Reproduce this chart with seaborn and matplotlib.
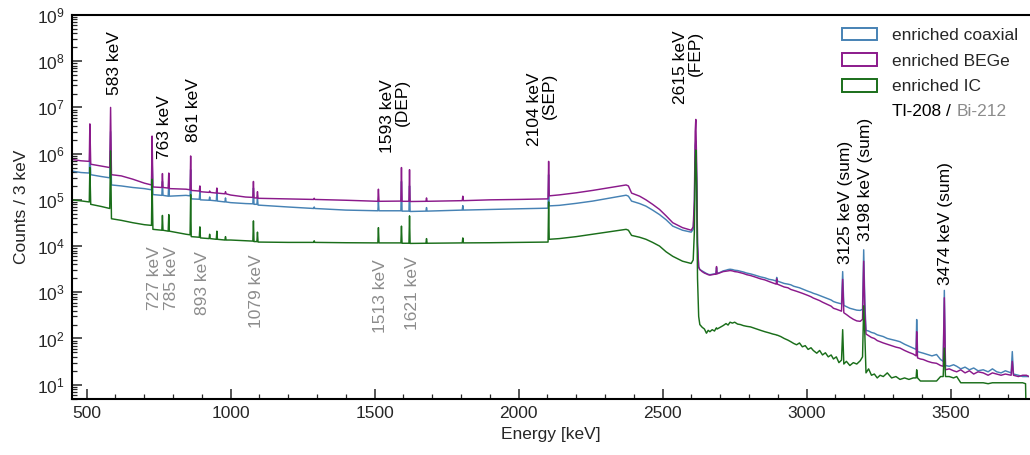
import numpy as np
import pandas as pd
import matplotlib
matplotlib.use("Agg")
import matplotlib.pyplot as plt
import seaborn as sns
from matplotlib.patches import Patch
from matplotlib.ticker import FixedLocator, NullFormatter, LogFormatterSciNotation

# ---------------- data ----------------
energy = [448, 480, 509, 511, 514, 550, 580, 583, 586, 620, 660, 700, 725, 727, 730,
          761, 763, 765, 783, 785, 787, 845, 859, 861, 863, 891, 893, 895, 925, 927, 929,
          950, 952, 954, 980, 982, 984, 1000, 1052, 1077, 1079, 1081, 1091, 1093, 1095,
          1200, 1288, 1290, 1292, 1400, 1511, 1513, 1515, 1591, 1593, 1595, 1619, 1621, 1623,
          1678, 1680, 1682, 1804, 1806, 1808, 1900, 2000, 2100, 2102, 2104, 2106, 2141, 2200,
          2257, 2320, 2373, 2381, 2392, 2420, 2442, 2465, 2489, 2512, 2535, 2569, 2599, 2606,
          2610, 2613, 2615, 2618, 2621, 2625,
          2629, 2637, 2645, 2652, 2658, 2664, 2672, 2680, 2685, 2687, 2689, 2700, 2710, 2720,
          2727, 2734, 2742, 2750, 2760, 2770, 2780, 2792, 2805, 2820, 2840, 2855, 2870, 2882,
          2894, 2896, 2898, 2910, 2922, 2935, 2945, 2955, 2965, 2975, 2985, 2995, 3005, 3015,
          3023, 3035, 3045, 3055, 3065, 3075, 3085, 3093, 3103, 3112, 3121, 3125, 3129, 3138,
          3150, 3162, 3174, 3186, 3194, 3198, 3202, 3206, 3215, 3225, 3235, 3245, 3255, 3266,
          3280, 3295, 3310, 3324, 3340, 3355, 3370, 3380, 3382, 3385, 3395, 3405, 3420, 3435,
          3451, 3465, 3474, 3478, 3482, 3495, 3510, 3521, 3535, 3550, 3565, 3580, 3595, 3613,
          3630, 3645, 3660, 3675, 3690, 3710, 3714, 3718, 3735, 3750, 3760, 3763, 3772]

coax = [4.2e5, 3.9e5, 3.8e5, 1.4e6, 3.5e5, 3.2e5, 3.0e5, 3.0e6, 2.1e5, 2.0e5, 1.85e5, 1.75e5, 1.65e5, 9e5, 1.3e5,
        1.25e5, 2.5e5, 1.25e5, 1.2e5, 2.4e5, 1.2e5, 1.25e5, 1.22e5, 4.5e5, 1.05e5, 1.03e5, 1.5e5, 1.0e5, 9.8e4, 1.15e5, 9.8e4,
        9.5e4, 1.4e5, 9.4e4, 9.0e4, 1.1e5, 9.0e4, 8.7e4, 8.3e4, 8.2e4, 1.8e5, 8.0e4, 8.0e4, 1.1e5, 7.7e4,
        7.0e4, 6.5e4, 7.0e4, 6.5e4, 6.0e4, 5.8e4, 9.0e4, 5.8e4, 5.8e4, 2.5e5, 5.7e4, 5.7e4, 2.0e5, 5.6e4,
        5.7e4, 6.8e4, 5.7e4, 6.0e4, 7.5e4, 6.0e4, 6.2e4, 6.4e4, 6.6e4, 6.6e4, 3.5e5, 7.4e4, 7.6e4, 8.4e4,
        9.4e4, 1.1e5, 1.26e5, 1.2e5, 9.4e4, 8.3e4, 7.3e4, 6.0e4, 4.8e4, 3.7e4, 2.7e4, 2.2e4, 2.0e4, 2.3e4,
        6e4, 1.5e6, 1.9e6, 3e5, 1e4, 3.5e3,
        3100, 2900, 2700, 2550, 2450, 2400, 2450, 2500, 2500, 3400, 2550, 2700, 2900, 3000,
        3100, 3150, 3100, 3000, 2950, 2850, 2750, 2600, 2500, 2350, 2150, 2050, 1900, 1850,
        1750, 2100, 1750, 1650, 1550, 1500, 1450, 1350, 1300, 1250, 1180, 1120, 1050, 1000,
        950, 900, 850, 800, 760, 720, 680, 630, 600, 580, 560, 2800, 520, 490,
        450, 430, 410, 405, 430, 8300, 600, 150, 145, 135, 130, 120, 115, 110,
        100, 95, 90, 85, 75, 68, 62, 58, 257, 52, 50, 48, 45, 42,
        45, 35, 32, 1100, 26, 25, 27, 25, 22, 24, 21, 23, 20, 21,
        19, 22, 19, 18, 20, 18, 52, 17, 16, 15, 15, 15, 15]

bege = [7.5e5, 7.0e5, 6.8e5, 4.4e6, 5.9e5, 5.4e5, 5.0e5, 1.0e7, 3.5e5, 3.3e5, 2.8e5, 2.3e5, 2.1e5, 2.4e6, 1.9e5,
        1.85e5, 3.7e5, 1.85e5, 1.8e5, 3.8e5, 1.75e5, 1.7e5, 1.65e5, 8.9e5, 1.6e5, 1.55e5, 2.0e5, 1.5e5, 1.45e5, 1.55e5, 1.45e5,
        1.4e5, 1.8e5, 1.4e5, 1.35e5, 1.5e5, 1.35e5, 1.27e5, 1.15e5, 1.13e5, 2.5e5, 1.1e5, 1.1e5, 1.5e5, 1.08e5,
        1.05e5, 1.02e5, 1.08e5, 1.02e5, 9.8e4, 9.3e4, 1.7e5, 9.3e4, 9.4e4, 5.0e5, 9.3e4, 9.3e4, 4.5e5, 9.2e4,
        9.3e4, 1.1e5, 9.3e4, 9.6e4, 1.2e5, 9.6e4, 1.0e5, 1.02e5, 1.05e5, 1.05e5, 6.8e5, 1.22e5, 1.28e5, 1.42e5,
        1.6e5, 1.85e5, 2.1e5, 2.0e5, 1.4e5, 1.2e5, 1.0e5, 8.0e4, 6.2e4, 4.5e4, 3.2e4, 2.5e4, 2.2e4, 2.6e4,
        1e5, 3e6, 5.5e6, 6e5, 1.2e4, 3.5e3,
        3100, 2800, 2600, 2500, 2400, 2350, 2400, 2450, 2450, 3600, 2500, 2650, 2800, 2850,
        2900, 2950, 2900, 2800, 2750, 2650, 2550, 2400, 2300, 2150, 1950, 1850, 1700, 1600,
        1500, 1950, 1500, 1400, 1300, 1250, 1150, 1100, 1050, 1000, 950, 900, 850, 800,
        750, 700, 660, 610, 570, 530, 500, 450, 430, 410, 390, 1900, 360, 330,
        290, 260, 240, 235, 260, 4700, 400, 125, 115, 105, 100, 90, 85, 80,
        75, 70, 65, 62, 55, 50, 46, 42, 140, 38, 36, 35, 32, 30,
        29, 26, 25, 760, 21, 22, 20, 19, 21, 18, 20, 17, 19, 18,
        16, 18, 17, 16, 17, 16, 32, 16, 15, 16, 16, 16, 15]

ic = [1.0e5, 9.5e4, 9.0e4, 5.0e5, 8.0e4, 7.2e4, 6.5e4, 1.15e6, 3.9e4, 3.6e4, 3.2e4, 2.9e4, 2.8e4, 2.8e5, 2.3e4,
      2.2e4, 4.6e4, 2.2e4, 2.1e4, 4.8e4, 2.1e4, 1.8e4, 1.75e4, 1.3e5, 1.6e4, 1.55e4, 2.6e4, 1.5e4, 1.45e4, 1.8e4, 1.45e4,
      1.4e4, 2.1e4, 1.4e4, 1.35e4, 1.6e4, 1.35e4, 1.35e4, 1.3e4, 1.28e4, 3.5e4, 1.25e4, 1.25e4, 2.0e4, 1.22e4,
      1.2e4, 1.2e4, 1.3e4, 1.2e4, 1.18e4, 1.17e4, 2.5e4, 1.17e4, 1.17e4, 2.7e4, 1.15e4, 1.15e4, 4.5e4, 1.14e4,
      1.15e4, 1.45e4, 1.15e4, 1.17e4, 1.5e4, 1.17e4, 1.18e4, 1.2e4, 1.22e4, 1.22e4, 9.0e4, 1.4e4, 1.45e4, 1.6e4,
      1.8e4, 2.05e4, 2.3e4, 2.2e4, 1.7e4, 1.55e4, 1.4e4, 1.2e4, 1.0e4, 7.5e3, 6.0e3, 4.7e3, 4.2e3, 5.0e3,
      2e4, 6e5, 1.2e6, 2e5, 2e3, 300,
      200, 175, 160, 130, 150, 140, 155, 145, 165, 170, 160, 175, 190, 210,
      195, 225, 215, 225, 205, 200, 190, 183, 178, 165, 150, 140, 132, 125,
      120, 118, 118, 110, 100, 92, 85, 78, 73, 80, 66, 70, 58, 63,
      55, 48, 55, 44, 49, 40, 44, 36, 40, 30, 34, 155, 28, 32,
      26, 30, 28, 33, 40, 510, 120, 18, 22, 16, 17, 14, 16, 15,
      18, 14, 15, 13, 14, 13, 14, 14, 21, 14, 12, 12, 12, 12,
      12, 15, 15, 62, 15, 15, 14, 15, 11, 11, 11, 11, 11, 11,
      10.5, 11, 11, 11, 11, 11, 11, 11, 11, 11, 10.5, 1, 1]

series_names = ["enriched coaxial", "enriched BEGe", "enriched IC"]
series_colors = ["#4682b4", "#8b1a8b", "#1a6e1a"]

# axis ticks
x_major = [500, 1000, 1500, 2000, 2500, 3000, 3500]
y_major = [1e1, 1e2, 1e3, 1e4, 1e5, 1e6, 1e7, 1e8, 1e9]

# peak annotations
tl_labels = ["583 keV", "763 keV", "861 keV", "1593 keV\n(DEP)", "2104 keV\n(SEP)",
             "2615 keV\n(FEP)", "3125 keV (sum)", "3198 keV (sum)", "3474 keV (sum)"]
bi_labels = ["727 keV", "785 keV", "893 keV", "1079 keV", "1513 keV", "1621 keV"]

# label placement (text centre energy, text bottom/top count level)
tl_pos_x = [596, 771, 870, 1571, 2080, 2589, 3135, 3205, 3483]
tl_pos_y = [1.9e7, 7.6e5, 1.76e6, 1.05e6, 1.46e6, 1.17e7, 4.0e3, 1.26e4, 1.46e3]
bi_pos_x = [734, 795, 901, 1088, 1520, 1630]
bi_pos_y = [1.0e4, 1.0e4, 7.7e3, 6.6e3, 5.2e3, 6.0e3]

# ---------------- figure ----------------
sns.set_style("ticks")
plt.rcParams["font.family"] = ["Liberation Sans", "DejaVu Sans"]
plt.rcParams["mathtext.fontset"] = "custom"
plt.rcParams["mathtext.rm"] = "Liberation Sans"
FS = 12.5
GREY = "#8c8c8c"
XLIM = (449, 3772)
YLIM = (4.9, 1e9)

frames = []
for name, vals in zip(series_names, [coax, bege, ic]):
    frames.append(pd.DataFrame({"Energy": energy, "Counts": vals, "detector": name}))
df = pd.concat(frames, ignore_index=True)

fig = plt.figure(figsize=(10.30, 4.55), dpi=100)
ax = fig.add_axes([72 / 1030, 56 / 455, (1029 - 72) / 1030, (440 - 56) / 455])

sns.lineplot(data=df, x="Energy", y="Counts", hue="detector", hue_order=series_names,
             palette=series_colors, estimator=None, sort=False, linewidth=1.05,
             legend=False, ax=ax)

ax.set_yscale("log")
ax.set_xlim(*XLIM)
ax.set_ylim(*YLIM)

x_minor = [v for v in range(500, 3800, 100) if XLIM[0] <= v <= XLIM[1] and v % 500]
y_minor = [m * 10.0 ** k for k in range(0, 9) for m in range(2, 10)
           if YLIM[0] <= m * 10.0 ** k <= YLIM[1]]
ax.xaxis.set_major_locator(FixedLocator(x_major))
ax.xaxis.set_minor_locator(FixedLocator(x_minor))
ax.yaxis.set_major_locator(FixedLocator(y_major))
ax.yaxis.set_major_formatter(LogFormatterSciNotation())
ax.yaxis.set_minor_locator(FixedLocator(y_minor))
ax.yaxis.set_minor_formatter(NullFormatter())

ax.tick_params(axis="both", which="major", direction="in", length=7, width=1.1,
               labelsize=FS, top=False, right=False, pad=5)
ax.tick_params(axis="both", which="minor", direction="in", length=3.5, width=0.9,
               top=False, right=False)
for s in ["left", "bottom", "top"]:
    ax.spines[s].set_linewidth(1.5)
    ax.spines[s].set_color("black")
ax.spines["right"].set_visible(False)

ax.set_xlabel("Energy [keV]", fontsize=FS, labelpad=4)
ax.set_ylabel("Counts / 3 keV", fontsize=FS, labelpad=6)

for lab, xv, yv in zip(tl_labels, tl_pos_x, tl_pos_y):
    ax.text(xv, yv, lab, rotation=90, ha="center", va="bottom", multialignment="right",
            fontsize=FS, color="black", linespacing=1.0)
for lab, xv, yv in zip(bi_labels, bi_pos_x, bi_pos_y):
    ax.text(xv, yv, lab, rotation=90, ha="center", va="top", fontsize=FS, color=GREY)

handles = [Patch(facecolor="white", edgecolor=c, linewidth=1.4, label=n)
           for n, c in zip(series_names, series_colors)]
leg = ax.legend(handles=handles, loc="upper left",
                bbox_to_anchor=((841.5 - 72) / (1029 - 72), 1 - (27.8 - 15) / 384),
                frameon=False, fontsize=FS, handlelength=2.05, handleheight=0.72,
                handletextpad=0.85, labelspacing=0.6, borderpad=0, borderaxespad=0)

fig.text(891.7 / 1030, 1 - 112.0 / 455, "Tl-208 /", fontsize=FS, color="black", va="center", ha="left")
fig.text(956.7 / 1030, 1 - 112.0 / 455, "Bi-212", fontsize=FS, color=GREY, va="center", ha="left")

fig.savefig("out.png", dpi=100)
